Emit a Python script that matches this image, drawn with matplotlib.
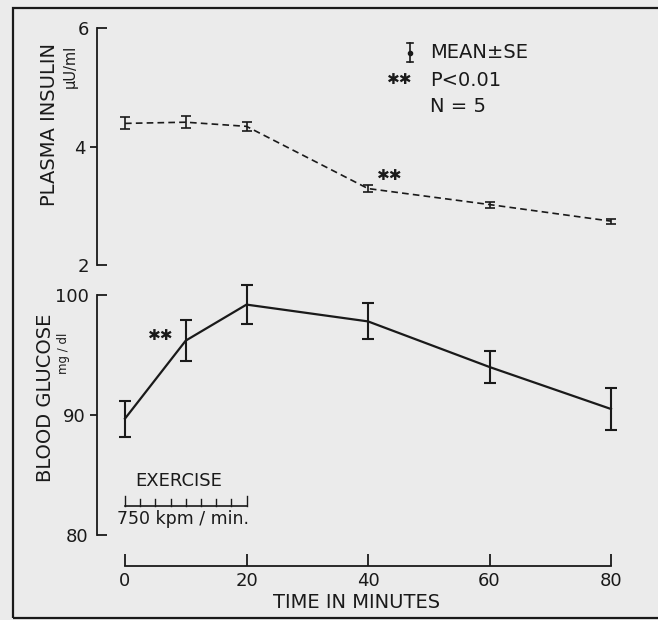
import matplotlib
matplotlib.use("Agg")
import matplotlib.pyplot as plt
from matplotlib.lines import Line2D
from matplotlib.patches import Rectangle

# data
minutes = [0, 10, 20, 40, 60, 80]
insulin = [4.39, 4.41, 4.34, 3.29, 3.02, 2.74]
insulin_se = [0.10, 0.10, 0.08, 0.06, 0.05, 0.04]
glucose = [89.7, 96.2, 99.2, 97.8, 94.0, 90.5]
glucose_se = [1.5, 1.7, 1.6, 1.5, 1.3, 1.75]
x_ticks = [0, 20, 40, 60, 80]
exercise_ticks = [0, 2.5, 5, 7.5, 10, 12.5, 15, 17.5, 20]

W, H = 658, 620
BG = "#ebebeb"
INK = "#1a1a1a"
plt.rcParams["font.family"] = ["DejaVu Sans"]


def fx(px):
    return px / W


def fy(py):
    return 1 - py / H


fig = plt.figure(figsize=(W / 100, H / 100), dpi=100, facecolor=BG)

# outer frame (open at the right like the scan)
fig.add_artist(Rectangle((fx(13), fy(618)), 1.2, fy(8) - fy(618), transform=fig.transFigure,
                         fill=False, edgecolor=INK, linewidth=1.6))

left, width = fx(97), fx(645) - fx(97)
xlim = (-28 / 6.075, (645 - 125) / 6.075)

ax_i = fig.add_axes([left, fy(265), width, fy(28) - fy(265)])
ax_g = fig.add_axes([left, fy(566), width, fy(295) - fy(566)])

for ax in (ax_i, ax_g):
    ax.set_facecolor("none")
    ax.set_xlim(*xlim)
    for side in ("top", "right"):
        ax.spines[side].set_visible(False)
    for sp in ax.spines.values():
        sp.set_linewidth(1.3)
        sp.set_color(INK)

# insulin panel
ax_i.set_ylim(2, 6)
ax_i.spines["bottom"].set_visible(False)
ax_i.set_xticks([])
ax_i.set_yticks([2, 6], labels=["2", "6"])
ax_i.set_yticks([4], labels=["4"], minor=True)
ax_i.tick_params(axis="y", which="major", direction="in", length=7, width=1.3, pad=6,
                 labelsize=13, colors=INK)
ax_i.tick_params(axis="y", which="minor", direction="out", length=5, width=1.3, pad=3,
                 labelsize=13, colors=INK)
ax_i.errorbar(minutes, insulin, yerr=insulin_se, color=INK, linestyle=(0, (4, 2.5)),
              linewidth=1.2, capsize=3.5, elinewidth=1.2, capthick=1.2, clip_on=False)
ax_i.text(40 + 3.6, insulin[3] + 0.22, "✱✱", fontsize=11, color=INK, ha="center", va="center")

# glucose panel
g_bottom = 80 - 31 / 12
ax_g.set_ylim(g_bottom, 100)
ax_g.spines["left"].set_bounds(80, 100)
ax_g.spines["bottom"].set_bounds(0, 80)
ax_g.set_yticks([80, 100], labels=["80", "100"])
ax_g.set_yticks([90], labels=["90"], minor=True)
ax_g.tick_params(axis="y", which="major", direction="in", length=7, width=1.3, pad=6,
                 labelsize=13, colors=INK)
ax_g.tick_params(axis="y", which="minor", direction="out", length=5, width=1.3, pad=3,
                 labelsize=13, colors=INK)
ax_g.set_xticks(x_ticks, labels=[str(t) for t in x_ticks])
ax_g.tick_params(axis="x", direction="in", length=9, width=1.3, pad=4, labelsize=13, colors=INK)
ax_g.errorbar(minutes, glucose, yerr=glucose_se, color=INK, linewidth=1.6,
              capsize=4, elinewidth=1.5, capthick=1.5, clip_on=False)
ax_g.text(5.9, 96.6, "✱✱", fontsize=11, color=INK, ha="center", va="center")

# exercise bar
ex_y = 82.42
ax_g.plot([exercise_ticks[0], exercise_ticks[-1]], [ex_y, ex_y], color=INK, linewidth=1.2)
for i, t in enumerate(exercise_ticks):
    h = 0.85 if i in (0, len(exercise_ticks) - 1) else 0.55
    ax_g.plot([t, t], [ex_y, ex_y + h], color=INK, linewidth=1.0)
ax_g.text(8.9, 84.5, "EXERCISE", fontsize=13, color=INK, ha="center", va="center")
ax_g.text(9.5, 81.3, "750 kpm / min.", fontsize=12.5, color=INK, ha="center", va="center")

# axis labels
fig.text(fx(357), fy(602), "TIME IN MINUTES", fontsize=14, color=INK, ha="center", va="center")
fig.text(fx(50), fy(124), "PLASMA INSULIN", fontsize=14, color=INK, rotation=90,
         ha="center", va="center")
fig.text(fx(70), fy(66), "μU/ml", fontsize=10.5, color=INK, rotation=90, ha="center", va="center")
fig.text(fx(46), fy(398), "BLOOD GLUCOSE", fontsize=14, color=INK, rotation=90,
         ha="center", va="center")
fig.text(fx(64), fy(353), "mg / dl", fontsize=8.5, color=INK, rotation=90, ha="center", va="center")

# key
fig.text(fx(430), fy(52), "MEAN±SE", fontsize=14, color=INK, ha="left", va="center")
fig.text(fx(430), fy(80), "P<0.01", fontsize=14, color=INK, ha="left", va="center")
fig.text(fx(430), fy(106), "N = 5", fontsize=14, color=INK, ha="left", va="center")
fig.text(fx(400), fy(80), "✱✱", fontsize=11, color=INK, ha="center", va="center")
kx = fx(410)
fig.add_artist(Line2D([kx, kx], [fy(43), fy(62)], transform=fig.transFigure, color=INK, linewidth=1.2))
for yy in (43, 62):
    fig.add_artist(Line2D([fx(407), fx(413)], [fy(yy), fy(yy)], transform=fig.transFigure,
                          color=INK, linewidth=1.2))
fig.add_artist(Line2D([kx], [fy(53)], transform=fig.transFigure, marker="o", markersize=3, color=INK))

fig.savefig("out.png", dpi=100, facecolor=BG)
